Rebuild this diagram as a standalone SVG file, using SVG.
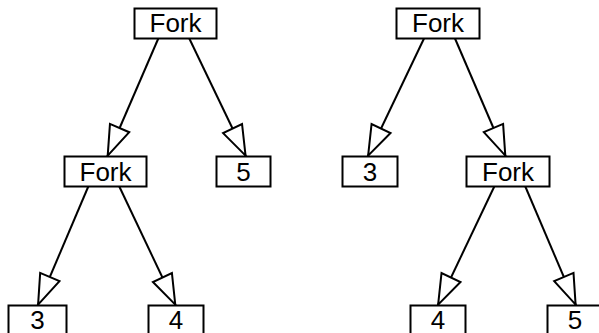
<svg xmlns="http://www.w3.org/2000/svg" width="599" height="333" viewBox="0 0 599 333">
<style>
.box{fill:#fff;stroke:#000;stroke-width:2}
.lbl{font-family:"Liberation Sans",Arial,sans-serif;font-size:26px;text-anchor:middle;fill:#000}
.edge{stroke:#000;stroke-width:2;fill:none;marker-end:url(#tri)}
</style>
<defs>
<marker id="tri" markerUnits="userSpaceOnUse" viewBox="-35 -14 38 28" markerWidth="38" markerHeight="28" refX="0" refY="0" orient="auto">
<path d="M-1,0 L-31,-10.5 L-31,10.5 Z" fill="#fff" stroke="#000" stroke-width="2"/>
</marker>
</defs>
<rect width="599" height="333" fill="#fff"/>
<g id="connectors">
<line class="edge" x1="158.3" y1="38.5" x2="107.3" y2="156.5"/>
<line class="edge" x1="189.3" y1="38.5" x2="246" y2="156.5"/>
<line class="edge" x1="88.3" y1="186.5" x2="37.7" y2="305.5"/>
<line class="edge" x1="119.3" y1="186.5" x2="175.7" y2="305.5"/>
<line class="edge" x1="424" y1="38.5" x2="367.7" y2="156.5"/>
<line class="edge" x1="455" y1="38.5" x2="505.7" y2="156.5"/>
<line class="edge" x1="494.3" y1="186.5" x2="437.7" y2="305.5"/>
<line class="edge" x1="525.3" y1="186.5" x2="576" y2="305.5"/>
</g>
<g id="forkA"><rect class="box" x="134.5" y="8.5" width="82" height="30"/><text class="lbl" x="175.5" y="31.5">Fork</text></g>
<g id="forkB"><rect class="box" x="64.5" y="156.5" width="82" height="30"/><text class="lbl" x="105.5" y="180.5">Fork</text></g>
<g id="leafL5"><rect class="box" x="216.5" y="156.5" width="54" height="30"/><text class="lbl" x="243.5" y="180.5">5</text></g>
<g id="leafL3"><rect class="box" x="8.5" y="305.5" width="58" height="30"/><text class="lbl" x="37.5" y="329">3</text></g>
<g id="leafL4"><rect class="box" x="148.5" y="305.5" width="55" height="30"/><text class="lbl" x="176" y="329">4</text></g>
<g id="forkC"><rect class="box" x="396.5" y="8.5" width="83" height="30"/><text class="lbl" x="438" y="31.5">Fork</text></g>
<g id="leafR3"><rect class="box" x="342.5" y="156.5" width="55" height="30"/><text class="lbl" x="370" y="180.5">3</text></g>
<g id="forkD"><rect class="box" x="466.5" y="156.5" width="83" height="30"/><text class="lbl" x="508" y="180.5">Fork</text></g>
<g id="leafR4"><rect class="box" x="410.5" y="305.5" width="55" height="30"/><text class="lbl" x="438" y="329">4</text></g>
<g id="leafR5"><rect class="box" x="547.5" y="305.5" width="55" height="30"/><text class="lbl" x="575" y="329">5</text></g>
</svg>
